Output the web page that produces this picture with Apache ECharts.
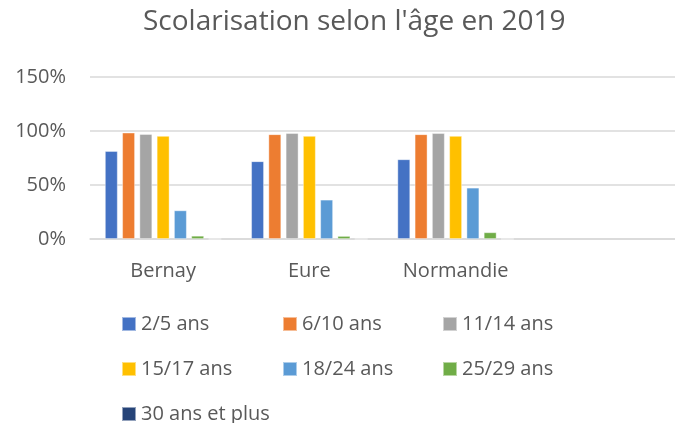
<!DOCTYPE html>
<html>
<head>
<meta charset="utf-8">
<script src="https://cdn.jsdelivr.net/npm/echarts@6/dist/echarts.min.js"></script>
<style>
  html, body { margin: 0; padding: 0; background: #fff; }
  #chart { width: 675px; height: 423px; }
</style>
</head>
<body>
<div id="chart"></div>
<script>
// données (en %)
var categories = ["Bernay", "Eure", "Normandie", ""];
var seriesNames = ["2/5 ans", "6/10 ans", "11/14 ans", "15/17 ans", "18/24 ans", "25/29 ans", "30 ans et plus"];
var v2_5 = [81.5, 72, 73.8];
var v6_10 = [98.5, 97, 97];
var v11_14 = [97.2, 98, 98];
var v15_17 = [95.4, 95.4, 95.4];
var v18_24 = [26.5, 36.4, 47.5];
var v25_29 = [3, 2.8, 6.2];
var v30plus = [0, 0, 0];
var yTicks = [0, 50, 100, 150];

var values = [v2_5, v6_10, v11_14, v15_17, v18_24, v25_29, v30plus];
var colors = ["#4472C4", "#ED7D31", "#A5A5A5", "#FFC000", "#5B9BD5", "#70AD47", "#264478"];
var font = "'Open Sans', sans-serif";

var myChart = echarts.init(document.getElementById("chart"));

// une légende par élément pour caler les colonnes
var legends = [];
var legLeft = [121, 282, 442];
var legTop = [314, 359, 404];
for (let i = 0; i < seriesNames.length; i++) {
  legends.push({
    data: [seriesNames[i]],
    left: legLeft[i % 3],
    top: legTop[Math.floor(i / 3)],
    padding: 0,
    itemWidth: 14,
    itemHeight: 14,
    itemGap: 0,
    icon: "rect",
    selectedMode: false,
    textStyle: { color: "#595959", fontSize: 20, fontFamily: font },
  });
}

var series = [];
for (let i = 0; i < seriesNames.length; i++) {
  series.push({
    name: seriesNames[i],
    type: "bar",
    data: values[i],
    barGap: "35%",
    barCategoryGap: "20.4%",
    itemStyle: {
      color: colors[i],
      borderColor: "rgba(255,255,255,0.5)",
      borderWidth: 0.8,
    },
  });
}

var option = {
  animation: false,
  color: colors,
  title: {
    text: "Scolarisation selon l'âge en 2019",
    left: 138,
    top: 3,
    textStyle: { color: "#595959", fontSize: 28, fontWeight: "normal", fontFamily: font },
  },
  legend: legends,
  grid: { left: 90, top: 77, width: 593, height: 162 },
  xAxis: {
    type: "category",
    data: categories,
    axisLine: { lineStyle: { color: "#d9d9d9", width: 1.5 } },
    axisTick: { show: false },
    axisLabel: { color: "#595959", fontSize: 20, fontFamily: font, margin: 22 },
  },
  yAxis: {
    type: "value",
    min: yTicks[0],
    max: yTicks[yTicks.length - 1],
    interval: 50,
    axisLine: { show: false },
    axisTick: { show: false },
    splitLine: { lineStyle: { color: "#d9d9d9", width: 1.5 } },
    axisLabel: { color: "#595959", fontSize: 20, fontFamily: font, margin: 24, formatter: "{value}%" },
  },
  series: series,
};
myChart.setOption(option);
</script>
</body>
</html>
